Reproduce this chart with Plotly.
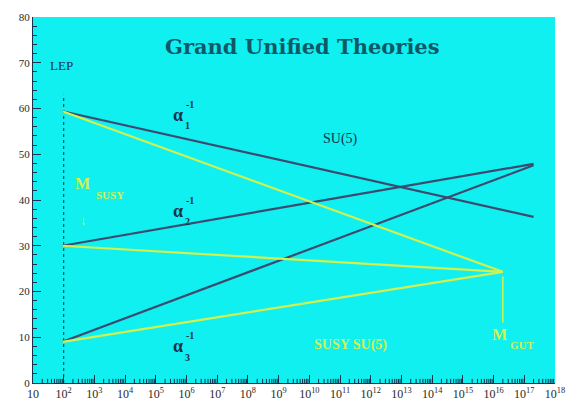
import plotly.graph_objects as go

# Running of the inverse gauge couplings (GUT normalised)
scale_mz = 91.2            # GeV, starting point of the running
scale_sm_end = 2.0e17      # GeV, end of the Standard Model curves
scale_gut = 2.0e16         # GeV, SUSY unification scale
lep_scale = 100.0          # GeV, LEP marker
lep_top = 63.0             # top of the LEP marker line

inv_alpha_mz = [59.4, 30.0, 9.0]          # alpha_1^-1, alpha_2^-1, alpha_3^-1 at M_Z
inv_alpha_sm_end = [36.3, 47.9, 47.6]     # Standard Model SU(5) at the end scale
inv_alpha_gut = 24.3                      # SUSY SU(5) unified value
gut_marker_low = 13.2                     # lower end of the M_GUT marker

x_tick_exps = list(range(1, 19))
y_ticks = [0, 10, 20, 30, 40, 50, 60, 70, 80]

SM_COLOR = "#3b4a6e"
SUSY_COLOR = "#d2f04e"
TEXT_DARK = "#17324a"
BG = "#10f0f0"

fig = go.Figure()

# minor decade ticks along the bottom axis
minor_x, minor_y = [], []
for e in x_tick_exps[:-1]:
    for k in range(2, 10):
        minor_x += [k * 10 ** e, k * 10 ** e, None]
        minor_y += [0, 0.9, None]
fig.add_trace(go.Scatter(x=minor_x, y=minor_y, mode="lines",
                         line=dict(color=TEXT_DARK, width=1), hoverinfo="skip"))

# LEP energy marker
fig.add_trace(go.Scatter(
    x=[lep_scale, lep_scale], y=[0, lep_top], mode="lines",
    line=dict(color=TEXT_DARK, width=1, dash="3px,3px"), hoverinfo="skip"))

# Standard Model running
for a0, a1 in zip(inv_alpha_mz, inv_alpha_sm_end):
    fig.add_trace(go.Scatter(
        x=[scale_mz, scale_sm_end], y=[a0, a1], mode="lines",
        line=dict(color=SM_COLOR, width=2.2), hoverinfo="skip"))

# Supersymmetric SU(5) running
for a0 in inv_alpha_mz:
    fig.add_trace(go.Scatter(
        x=[scale_mz, scale_gut], y=[a0, inv_alpha_gut], mode="lines",
        line=dict(color=SUSY_COLOR, width=2.2), hoverinfo="skip"))

# M_GUT marker
fig.add_trace(go.Scatter(
    x=[scale_gut, scale_gut], y=[inv_alpha_gut - 1.0, gut_marker_low], mode="lines",
    line=dict(color=SUSY_COLOR, width=1.5), hoverinfo="skip"))

serif = "Liberation Serif, DejaVu Serif, serif"
wide_serif = "DejaVu Serif, Liberation Serif, serif"

def label(x_log, y, text, color, size, family=serif, **kw):
    fig.add_annotation(x=x_log, y=y, text=text, showarrow=False,
                       font=dict(family=family, size=size, color=color), **kw)

# Title
label(9.78, 73.6, "<b>Grand Unified Theories</b>", "#0f5868", 21, family=wide_serif)
label(1.92, 69.5, "LEP", TEXT_DARK, 13)

# coupling labels: alpha with subscript index and superscript -1
for y_a, idx in [(58.6, "1"), (37.6, "2"), (8.0, "3")]:
    label(5.72, y_a, "<b>α</b>", TEXT_DARK, 18)
    label(6.02, y_a - 2.4, "<b>" + idx + "</b>", TEXT_DARK, 10)
    label(6.1, y_a + 2.3, "<b>-1</b>", TEXT_DARK, 10)

label(11.0, 53.3, "SU(5)", TEXT_DARK, 14)
label(11.35, 8.3, "<b>SUSY SU(5)</b>", SUSY_COLOR, 14)

label(2.6, 43.5, "<b>M</b>", SUSY_COLOR, 16)
label(3.5, 41.0, "<b>SUSY</b>", SUSY_COLOR, 11)
label(2.62, 35.4, "↓", SUSY_COLOR, 12)

label(16.2, 10.7, "<b>M</b>", SUSY_COLOR, 16)
label(16.95, 8.4, "<b>GUT</b>", SUSY_COLOR, 11)

tick_text = ["10"] + [f"10<sup>{e}</sup>" for e in x_tick_exps[1:]]

fig.update_layout(
    width=571, height=408,
    margin=dict(l=33, r=16, t=17, b=25),
    paper_bgcolor="white", plot_bgcolor=BG,
    showlegend=False,
    xaxis=dict(
        type="log", range=[1, 18], automargin=False,
        tickvals=[10 ** e for e in x_tick_exps], ticktext=tick_text,
        ticks="inside", ticklen=8, tickcolor=TEXT_DARK,
        showgrid=False, zeroline=False, showline=True, linecolor=TEXT_DARK,
        tickfont=dict(family=serif, size=12, color="#2a2a2a")),
    yaxis=dict(
        range=[0, 80], tickvals=y_ticks, automargin=False,
        ticks="inside", ticklen=8, tickcolor=TEXT_DARK,
        minor=dict(ticks="inside", ticklen=4, tickcolor=TEXT_DARK, dtick=2, showgrid=False),
        showgrid=False, zeroline=False, showline=True, linecolor=TEXT_DARK,
        tickfont=dict(family=serif, size=11, color="#2a2a2a")),
)

fig.write_html("out.html")
